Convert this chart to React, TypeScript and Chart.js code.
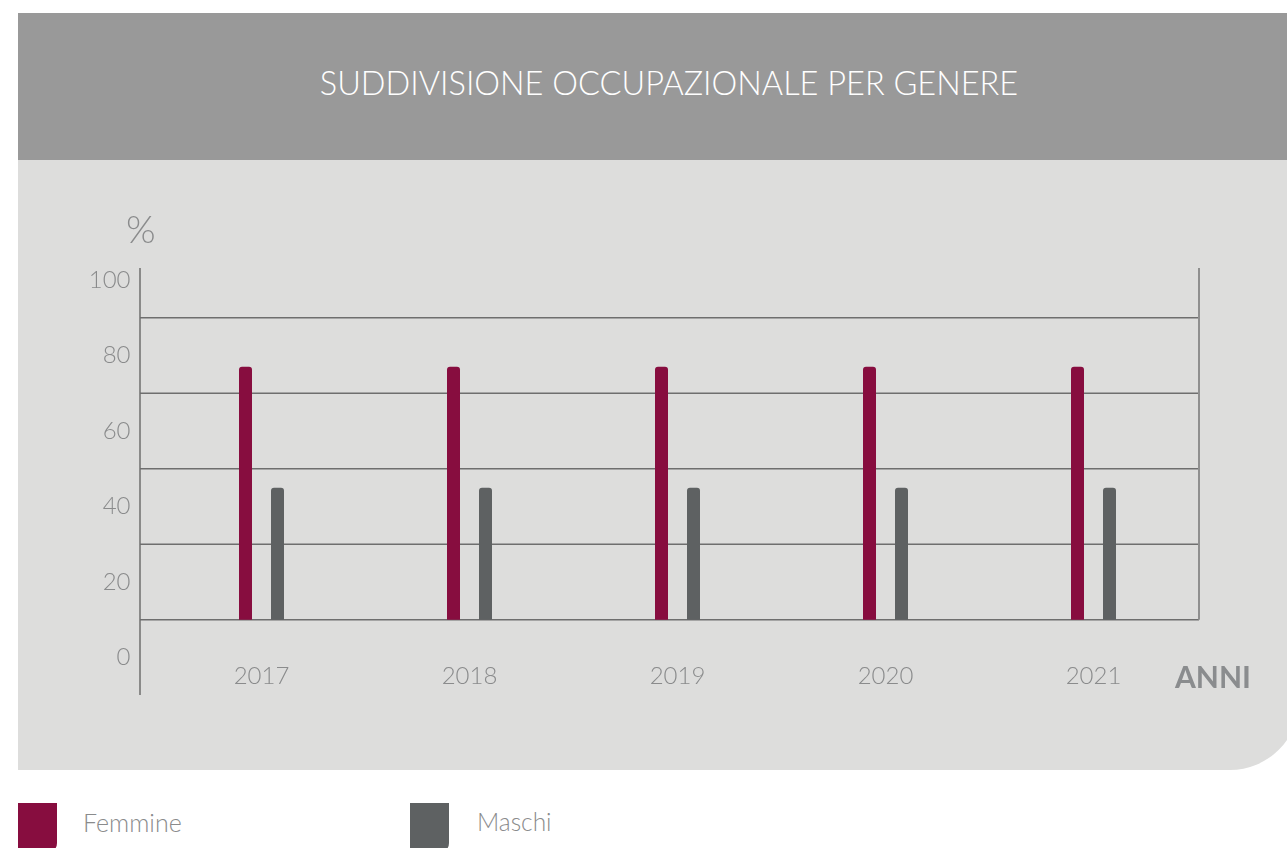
import React, { useEffect, useRef } from "react";
import { Chart, registerables } from "chart.js";

Chart.register(...registerables);

const title = "SUDDIVISIONE OCCUPAZIONALE PER GENERE";
const years = ["2017", "2018", "2019", "2020", "2021"];
const femmine = [77, 77, 77, 77, 77];
const maschi = [45, 45, 45, 45, 45];
const barBase = 10;
const yTicks = [0, 20, 40, 60, 80, 100];
const gridValues = [10, 30, 50, 70, 90];
const seriesNames = ["Femmine", "Maschi"];
const seriesColors = ["#870d3f", "#5e6162"];

const FONT = "Lato, 'Open Sans', sans-serif";
const LABEL_COLOR = "#8a8b8c";
const LINE_COLOR = "#6e6e6e";

const framePlugin = {
  id: "frame",
  beforeDatasetsDraw(chart: any) {
    const { ctx, chartArea } = chart;
    const y = chart.scales.y;
    const xl = chartArea.left - 17.5;
    const xr = chartArea.right + 1.5;
    ctx.save();
    ctx.strokeStyle = LINE_COLOR;
    ctx.lineWidth = 1.5;
    gridValues.forEach((v) => {
      const py = y.getPixelForValue(v);
      ctx.beginPath();
      ctx.moveTo(xl, py);
      ctx.lineTo(xr, py);
      ctx.stroke();
    });
    ctx.beginPath();
    ctx.moveTo(xl, chartArea.top - 12);
    ctx.lineTo(xl, chartArea.bottom + 37.5);
    ctx.stroke();
    ctx.strokeStyle = "#8f8f8f";
    ctx.lineWidth = 2;
    ctx.beginPath();
    ctx.moveTo(xr, chartArea.top - 12);
    ctx.lineTo(xr, y.getPixelForValue(gridValues[0]));
    ctx.stroke();
    ctx.restore();
  },
};

function BarChart() {
  const ref = useRef<HTMLCanvasElement | null>(null);
  useEffect(() => {
    if (!ref.current) return;
    const chart = new Chart(ref.current, {
      type: "bar",
      data: {
        labels: years,
        datasets: [
          {
            label: seriesNames[0],
            data: femmine,
            base: barBase,
            backgroundColor: seriesColors[0],
            borderRadius: { topLeft: 3, topRight: 3, bottomLeft: 0, bottomRight: 0 },
            borderSkipped: false,
          },
          {
            label: seriesNames[1],
            data: maschi,
            base: barBase,
            backgroundColor: seriesColors[1],
            borderRadius: { topLeft: 3, topRight: 3, bottomLeft: 0, bottomRight: 0 },
            borderSkipped: false,
          },
        ],
      } as any,
      options: {
        responsive: false,
        animation: false,
        events: [],
        layout: { padding: { left: 0, top: 120, right: 101.5, bottom: 72.5 } },
        datasets: {
          bar: { categoryPercentage: 64 / 208, barPercentage: 13 / 32 },
        } as any,
        plugins: { legend: { display: false }, tooltip: { enabled: false }, title: { display: false } },
        scales: {
          x: {
            type: "category",
            offset: true,
            grid: { display: false },
            border: { display: false },
            ticks: { color: LABEL_COLOR, font: { family: FONT, size: 24, weight: 300 as any }, padding: -4, maxRotation: 0 },
            afterFit: (s: any) => { s.height = 40; },
          },
          y: {
            type: "linear",
            min: 0,
            max: 100,
            afterBuildTicks: (s: any) => { s.ticks = yTicks.map((v) => ({ value: v })); },
            grid: { display: false },
            border: { display: false },
            ticks: { color: LABEL_COLOR, font: { family: FONT, size: 24, weight: 300 as any }, padding: 19 },
            afterFit: (s: any) => { s.width = 139.5; },
          },
        },
      },
      plugins: [framePlugin],
    });
    return () => chart.destroy();
  }, []);
  return <canvas ref={ref} width={1281} height={610} style={{ display: "block", width: 1281, height: 610 }} />;
}

export default function App() {
  return (
    <div style={{ position: "fixed", left: 0, top: 0, width: 1287, height: 848, overflow: "hidden", background: "#fff", fontFamily: FONT }}>
      <div style={{ position: "absolute", left: 18, top: 13, width: 1302, height: 139, background: "#999999", display: "flex", alignItems: "center", justifyContent: "center", borderBottom: "8px solid #999999" }}>
        <span style={{ color: "#ffffff", fontSize: 32.5, fontWeight: 300, letterSpacing: 0 }}>{title}</span>
      </div>
      <div style={{ position: "absolute", left: 18, top: 160, width: 1281, height: 610, background: "#dddddc", borderBottomRightRadius: 69, overflow: "hidden" }}>
        <BarChart />
        <span style={{ position: "absolute", left: 108, top: 48, fontSize: 38, fontWeight: 300, color: LABEL_COLOR, lineHeight: "40px" }}>%</span>
        <span style={{ position: "absolute", left: 1157, top: 500, fontSize: 30, fontWeight: 700, color: "#8a8c8e", lineHeight: "32px" }}>ANNI</span>
      </div>
      {seriesNames.map((n, i) => (
        <div key={n} style={{ position: "absolute", left: i === 0 ? 18 : 410, top: 803 }}>
          <div style={{ width: 39, height: 50, background: seriesColors[i], borderBottomRightRadius: 10 }} />
          <span style={{ position: "absolute", left: i === 0 ? 65 : 67, top: 4, whiteSpace: "nowrap", fontSize: i === 0 ? 25 : 24.5, fontWeight: 300, color: LABEL_COLOR, lineHeight: "30px" }}>{n}</span>
        </div>
      ))}
    </div>
  );
}
